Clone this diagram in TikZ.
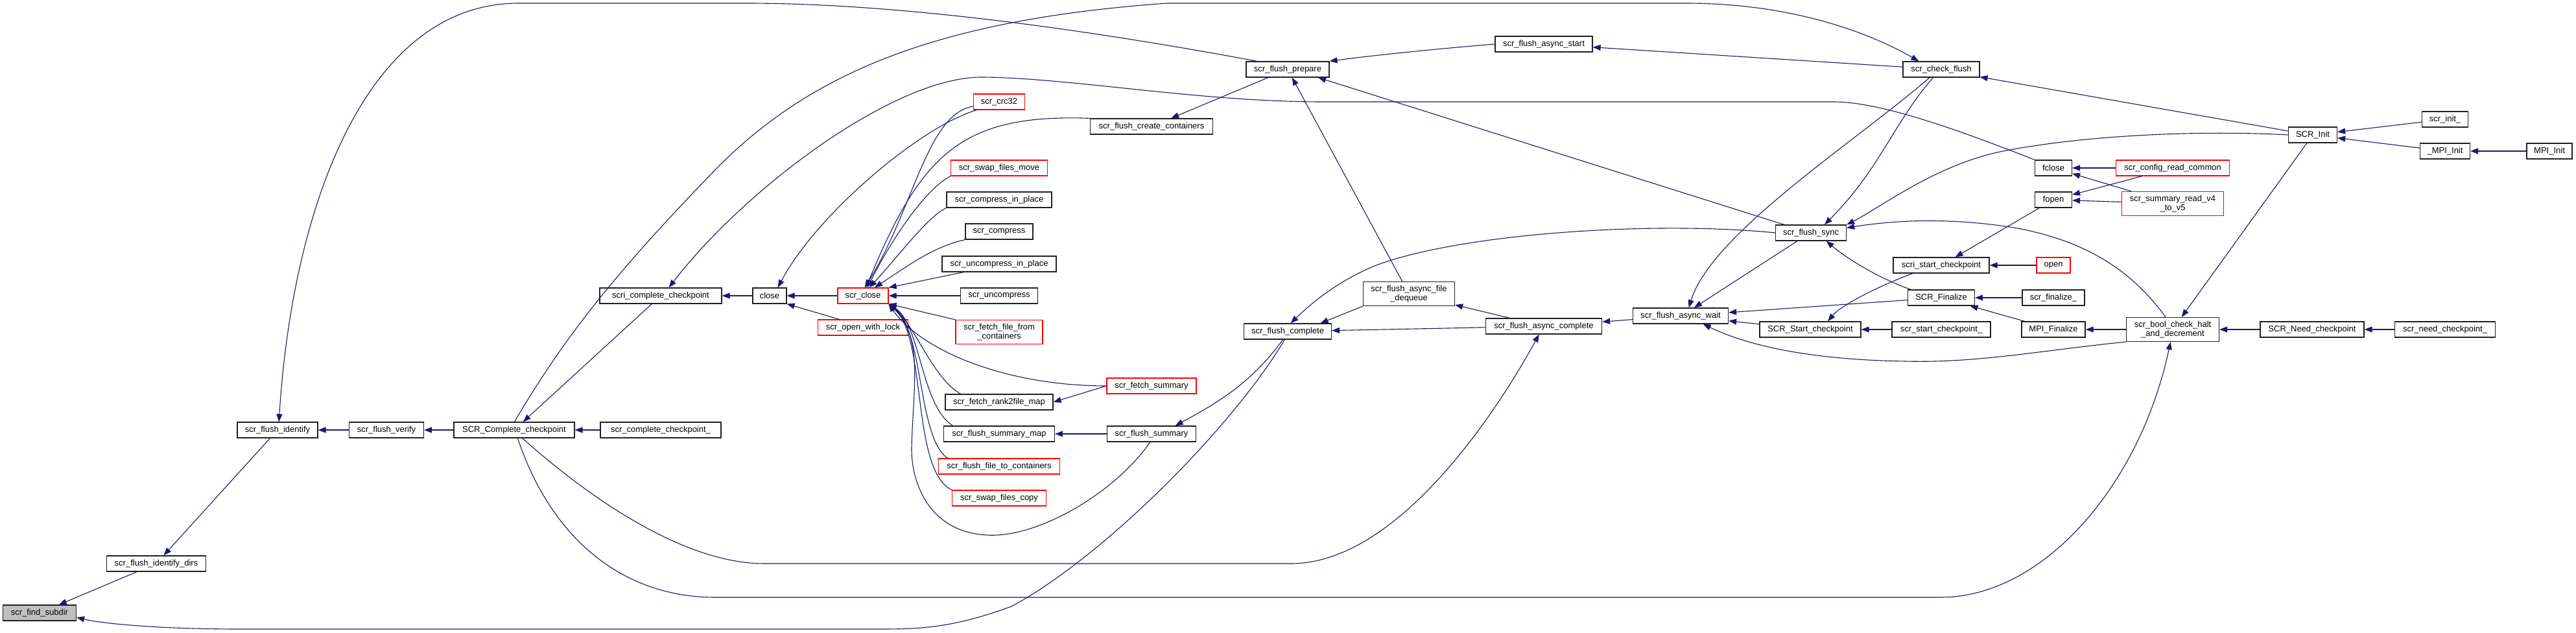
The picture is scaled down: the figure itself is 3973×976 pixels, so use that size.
\documentclass[tikz,border=0pt]{standalone}
\usepackage{fontspec}
\setmainfont{Liberation Sans}
\usepackage{tikz}
\usetikzlibrary{arrows.meta}
\definecolor{doxyNavy}{HTML}{191970}
\definecolor{doxyRed}{HTML}{FF0000}
\definecolor{doxyGray}{HTML}{BFBFBF}
\definecolor{doxyInk}{HTML}{202020}
\tikzset{
  fn/.style={
    rectangle,
    draw=doxyInk,
    fill=white,
    line width=1.2pt,
    minimum height=24pt,
    inner sep=0pt,
    align=center,
    font=\fontsize{13}{13.5}\selectfont
  },
  fnRed/.style={
    fn,
    draw=doxyRed
  },
  fnRoot/.style={
    fn,
    fill=doxyGray
  },
  tallBox/.style={
    minimum height=37pt
  },
  callArrow/.style={
    -{Triangle[length=12pt,width=9pt]},
    line width=1.1pt,
    draw=doxyNavy
  }
}

\begin{document}
\begin{tikzpicture}[x=1pt,y=-1pt]
  \path[fill=white,use as bounding box] (0,0) rectangle (3973,976);
  \node[fnRoot,minimum width=113pt] (findSubdir) at (61,945) {scr\_find\_subdir};
  \node[fn,minimum width=153pt] (identifyDirs) at (241,869) {scr\_flush\_identify\_dirs};
  \node[fn,minimum width=124pt] (identify) at (428,663) {scr\_flush\_identify};
  \node[fn,minimum width=115pt] (verify) at (596,663) {scr\_flush\_verify};
  \node[fn,minimum width=186pt] (completeCkpt) at (793,663) {SCR\_Complete\_checkpoint};
  \node[fn,minimum width=186pt] (completeCkptF) at (1019,663) {scr\_complete\_checkpoint\_};
  \node[fn,minimum width=188pt] (scriComplete) at (1019,456) {scri\_complete\_checkpoint};
  \node[fn,minimum width=52pt] (close) at (1187,456) {close};
  \node[fnRed,minimum width=78pt] (scrClose) at (1331,456) {scr\_close};
  \node[fnRed,minimum width=139pt] (openLock) at (1331,505) {scr\_open\_with\_lock};
  \node[fnRed,minimum width=79pt] (crc) at (1541,157) {scr\_crc32};
  \node[fn,minimum width=189pt] (createCont) at (1776,195) {scr\_flush\_create\_containers};
  \node[fnRed,minimum width=149pt] (swapMove) at (1541,259) {scr\_swap\_files\_move};
  \node[fn,minimum width=162pt] (compressIP) at (1541,308) {scr\_compress\_in\_place};
  \node[fn,minimum width=104pt] (compress) at (1541,357) {scr\_compress};
  \node[fn,minimum width=176pt] (uncompressIP) at (1541,407) {scr\_uncompress\_in\_place};
  \node[fn,minimum width=119pt] (uncompress) at (1541,456) {scr\_uncompress};
  \node[fnRed,tallBox,minimum width=134pt] (fetchFile) at (1541,512) {scr\_fetch\_file\_from\\\_containers};
  \node[fn,minimum width=166pt] (rankMap) at (1541,620) {scr\_fetch\_rank2file\_map};
  \node[fn,minimum width=171pt] (summaryMap) at (1541,669) {scr\_flush\_summary\_map};
  \node[fnRed,minimum width=187pt] (fileToCont) at (1541,719) {scr\_flush\_file\_to\_containers};
  \node[fnRed,minimum width=145pt] (swapCopy) at (1541,768) {scr\_swap\_files\_copy};
  \node[fn,minimum width=128pt] (prepare) at (1986,107) {scr\_flush\_prepare};
  \node[fn,minimum width=150pt] (asyncStart) at (2381,68) {scr\_flush\_async\_start};
  \node[fn,tallBox,minimum width=141pt] (dequeue) at (2173,453) {scr\_flush\_async\_file\\\_dequeue};
  \node[fn,minimum width=135pt] (complete) at (1986,511) {scr\_flush\_complete};
  \node[fnRed,minimum width=138pt] (fetchSummary) at (1776,595) {scr\_fetch\_summary};
  \node[fn,minimum width=137pt] (flushSummary) at (1776,669) {scr\_flush\_summary};
  \node[fn,minimum width=179pt] (asyncComplete) at (2381,503) {scr\_flush\_async\_complete};
  \node[fn,minimum width=118pt] (checkFlush) at (2994,107) {scr\_check\_flush};
  \node[fn,minimum width=57pt] (fclose) at (3167,259) {fclose};
  \node[fn,minimum width=57pt] (fopen) at (3167,308) {fopen};
  \node[fn,minimum width=109pt] (flushSync) at (2793,359) {scr\_flush\_sync};
  \node[fn,minimum width=148pt] (scriStart) at (2994,409) {scri\_start\_checkpoint};
  \node[fnRed,minimum width=52pt] (open) at (3167,409) {open};
  \node[fn,minimum width=103pt] (finalize) at (2994,459) {SCR\_Finalize};
  \node[fn,minimum width=96pt] (finalizeF) at (3167,459) {scr\_finalize\_};
  \node[fn,minimum width=147pt] (asyncWait) at (2592,487) {scr\_flush\_async\_wait};
  \node[fn,minimum width=156pt] (startCkpt) at (2792,508) {SCR\_Start\_checkpoint};
  \node[fn,minimum width=152pt] (startCkptF) at (2994,508) {scr\_start\_checkpoint\_};
  \node[fn,minimum width=98pt] (mpiFinalize) at (3167,508) {MPI\_Finalize};
  \node[fn,tallBox,minimum width=143pt] (boolCheck) at (3351,508) {scr\_bool\_check\_halt\\\_and\_decrement};
  \node[fn,minimum width=160pt] (needCkpt) at (3566,508) {SCR\_Need\_checkpoint};
  \node[fn,minimum width=155pt] (needCkptF) at (3771,508) {scr\_need\_checkpoint\_};
  \node[fn,minimum width=75pt] (scrInit) at (3567,208) {SCR\_Init};
  \node[fn,minimum width=71pt] (initF) at (3771,184) {scr\_init\_};
  \node[fn,minimum width=77pt] (mpiInitU) at (3771,233) {\_MPI\_Init};
  \node[fn,minimum width=70pt] (mpiInit) at (3932,233) {MPI\_Init};
  \node[fnRed,minimum width=175pt] (configRead) at (3351,259) {scr\_config\_read\_common};
  \node[fnRed,tallBox,minimum width=157pt] (summaryRead) at (3351,314) {scr\_summary\_read\_v4\\\_to\_v5};

  \draw[callArrow] (identifyDirs) -- (findSubdir);
  \draw[callArrow] (complete.250) .. controls (1900,660) and (1700,860) .. (1560,935) .. controls (1470,968) and (1420,970) .. (1357,970) -- (370,970) .. controls (250,970) and (160,962) .. (findSubdir.-7);
  \draw[callArrow] (identify) -- (identifyDirs);
  \draw[callArrow] (verify) -- (identify);
  \draw[callArrow] (prepare.165) .. controls (1700,50) and (1400,5) .. (1150,5) -- (800,5) .. controls (560,5) and (450,330) .. (identify.80);
  \draw[callArrow] (completeCkpt.88) .. controls (870,520) and (950,420) .. (1100,265) .. controls (1250,110) and (1450,30) .. (1800,5) -- (2600,5) .. controls (2780,5) and (2900,60) .. (checkFlush.160);
  \draw[callArrow] (scriComplete) -- (completeCkpt);
  \draw[callArrow] (completeCkptF) -- (completeCkpt);
  \draw[callArrow] (completeCkpt) -- (verify);
  \draw[callArrow] (close) -- (scriComplete);
  \draw[callArrow] (scrClose) -- (close);
  \draw[callArrow] (openLock.161) -- (close.south east);
  \draw[callArrow] (crc.200) .. controls (1420,195) and (1260,330) .. (close.45);
  \draw[callArrow] (crc.190) .. controls (1430,175) and (1410,320) .. (scrClose.78);
  \draw[callArrow] (createCont.north west) .. controls (1480,175) and (1420,240) .. (scrClose.70);
  \draw[callArrow] (swapMove.south west) .. controls (1430,290) and (1380,360) .. (scrClose.62);
  \draw[callArrow] (compressIP.south west) .. controls (1430,335) and (1390,390) .. (scrClose.52);
  \draw[callArrow] (compress.south west) .. controls (1440,380) and (1400,410) .. (scrClose.35);
  \draw[callArrow] (uncompressIP.193) -- (scrClose.north east);
  \draw[callArrow] (uncompress) -- (scrClose);
  \draw[callArrow] (fetchFile.north west) -- (scrClose.south east);
  \draw[callArrow] (rankMap.168) .. controls (1440,585) and (1410,500) .. (scrClose.south east);
  \draw[callArrow] (summaryMap.170) .. controls (1420,625) and (1420,500) .. (scrClose.south east);
  \draw[callArrow] (fileToCont.171) .. controls (1415,675) and (1425,510) .. (scrClose.south east);
  \draw[callArrow] (swapCopy.north west) .. controls (1405,725) and (1430,520) .. (scrClose.south east);
  \draw[callArrow] (fetchSummary.west) .. controls (1550,595) and (1420,540) .. (scrClose.south east);
  \draw[callArrow] (flushSummary.260) .. controls (1720,760) and (1600,830) .. (1522,825) .. controls (1430,820) and (1405,740) .. (1406,690) .. controls (1408,600) and (1425,520) .. (scrClose.south east);
  \draw[callArrow] (fetchSummary.west) -- (rankMap.east);
  \draw[callArrow] (flushSummary) -- (summaryMap);
  \draw[callArrow] (complete.240) .. controls (1930,590) and (1880,620) .. (flushSummary.19);
  \draw[callArrow] (completeCkpt.-45) .. controls (900,760) and (1050,869) .. (1179,869) -- (1991,869) .. controls (2150,869) and (2300,650) .. (asyncComplete.240);
  \draw[callArrow] (completeCkpt.-67) .. controls (850,830) and (960,921) .. (1103,921) -- (2993,921) .. controls (3150,921) and (3300,750) .. (boolCheck.260);
  \draw[callArrow] (fclose.north west) .. controls (3020,200) and (2900,157) .. (2828,157) -- (2039,157) .. controls (1850,157) and (1650,120) .. (1515,119) .. controls (1380,118) and (1150,290) .. (scriComplete.45);
  \draw[callArrow] (dequeue.south west) -- (complete.14);
  \draw[callArrow] (flushSync.west) .. controls (2550,340) and (2250,360) .. (2120,410) .. controls (2060,435) and (2020,470) .. (complete.70);
  \draw[callArrow] (asyncComplete) -- (complete);
  \draw[callArrow] (asyncWait) -- (asyncComplete);
  \draw[callArrow] (prepare) -- (createCont);
  \draw[callArrow] (asyncStart.west) .. controls (2220,75) and (2120,85) .. (prepare.north east);
  \draw[callArrow] (dequeue) -- (prepare);
  \draw[callArrow] (flushSync.163) -- (prepare.-15);
  \draw[callArrow] (checkFlush) -- (asyncStart);
  \draw[callArrow] (scrInit.171) -- (checkFlush.-11);
  \draw[callArrow] (checkFlush.-135) .. controls (2920,190) and (2900,260) .. (flushSync.31);
  \draw[callArrow] (checkFlush.-145) .. controls (2860,220) and (2640,360) .. (asyncWait.45);
  \draw[callArrow] (scrInit.west) .. controls (3380,200) and (3200,210) .. (3080,235) .. controls (2980,258) and (2900,320) .. (flushSync.north east);
  \draw[callArrow] (finalize.165) .. controls (2900,430) and (2850,400) .. (flushSync.-28);
  \draw[callArrow] (boolCheck.120) .. controls (3290,420) and (3220,370) .. (3100,350) .. controls (3000,335) and (2920,340) .. (flushSync.8);
  \draw[callArrow] (flushSync.-149) -- (asyncWait.31);
  \draw[callArrow] (finalize) -- (asyncWait);
  \draw[callArrow] (startCkpt) -- (asyncWait);
  \draw[callArrow] (boolCheck.south west) .. controls (3150,540) and (3050,560) .. (2939,557) .. controls (2800,555) and (2700,535) .. (asyncWait.-20);
  \draw[callArrow] (scrInit) -- (boolCheck);
  \draw[callArrow] (asyncComplete) -- (dequeue);
  \draw[callArrow] (fopen) -- (scriStart);
  \draw[callArrow] (open) -- (scriStart);
  \draw[callArrow] (scriStart.-164) .. controls (2900,440) and (2840,470) .. (startCkpt.25);
  \draw[callArrow] (startCkptF) -- (startCkpt);
  \draw[callArrow] (finalizeF) -- (finalize);
  \draw[callArrow] (mpiFinalize) -- (finalize);
  \draw[callArrow] (boolCheck) -- (mpiFinalize);
  \draw[callArrow] (needCkpt) -- (boolCheck);
  \draw[callArrow] (needCkptF) -- (needCkpt);
  \draw[callArrow] (initF) -- (scrInit);
  \draw[callArrow] (mpiInitU) -- (scrInit);
  \draw[callArrow] (mpiInit) -- (mpiInitU);
  \draw[callArrow] (configRead) -- (fclose);
  \draw[callArrow] (summaryRead) -- (fclose);
  \draw[callArrow] (configRead) -- (fopen);
  \draw[callArrow] (summaryRead) -- (fopen);
\end{tikzpicture}
\end{document}
